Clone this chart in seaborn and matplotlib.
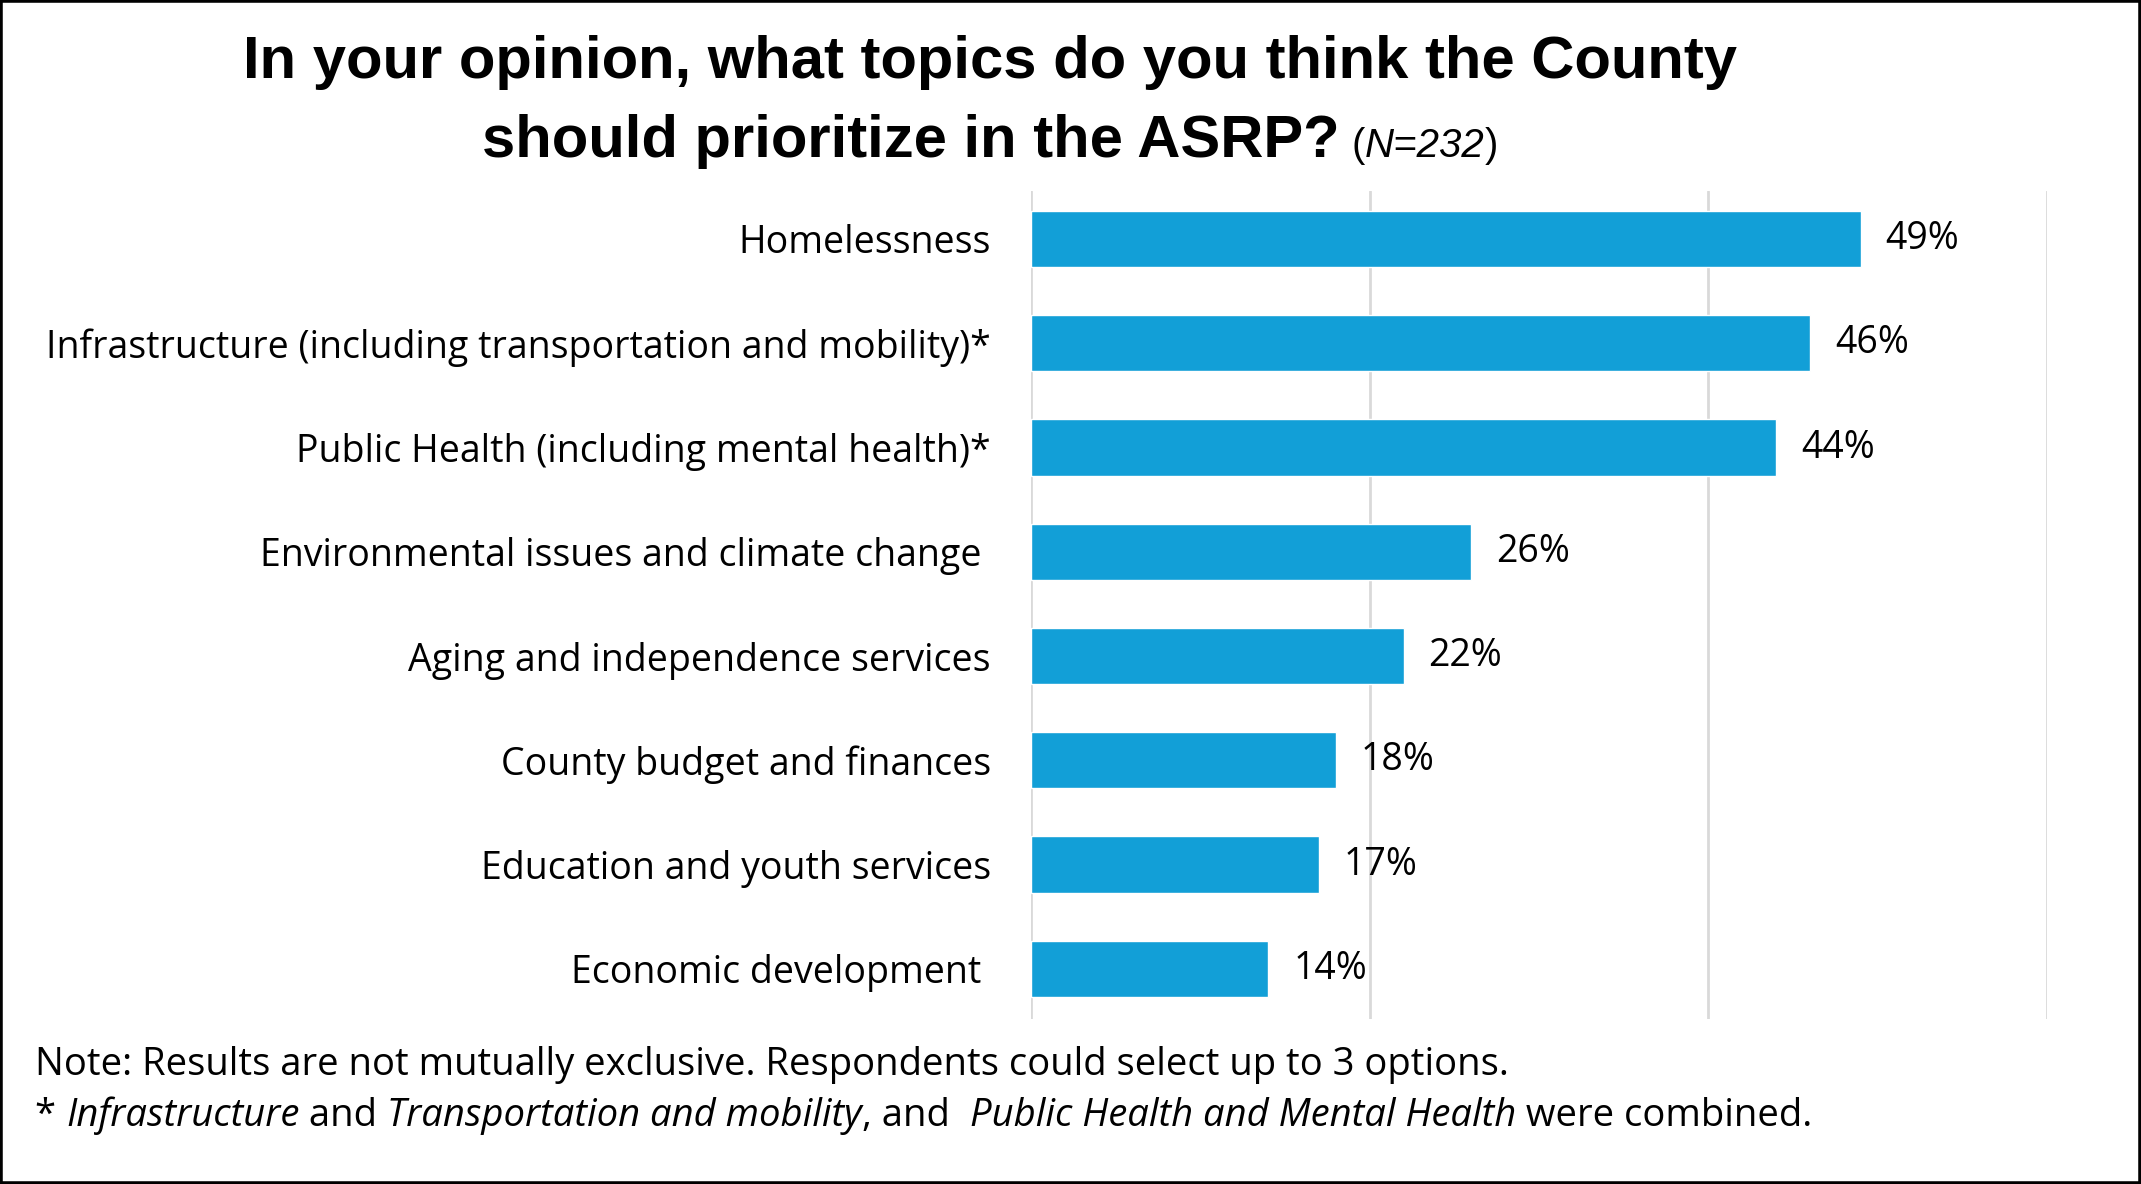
import numpy as np
import pandas as pd
import seaborn as sns
import matplotlib.pyplot as plt
from matplotlib.patches import Rectangle

# 資料
topics = [
    'Homelessness',
    'Infrastructure (including transportation and mobility)*',
    'Public Health (including mental health)*',
    'Environmental issues and climate change ',
    'Aging and independence services',
    'County budget and finances',
    'Education and youth services',
    'Economic development ',
]
shares = [0.49, 0.46, 0.44, 0.26, 0.22, 0.18, 0.17, 0.14]
pct_labels = ['49%', '46%', '44%', '26%', '22%', '18%', '17%', '14%']
x_ticks = [0, 0.2, 0.4, 0.6]

sns.set_theme(style='white')
plt.rcParams['font.family'] = ['Open Sans', 'DejaVu Sans']
plt.rcParams['text.color'] = 'black'

df = pd.DataFrame({'topic': topics, 'share': shares})

fig = plt.figure(figsize=(21.41, 11.84), dpi=100)
ax = fig.add_axes([0.4816, 0.1394, 0.956 - 0.4816, 0.8387 - 0.1394])

sns.barplot(data=df, x='share', y='topic', color='#129FD7', width=0.54,
            saturation=1, ax=ax, zorder=3)

ax.set_xlim(0, 0.6)
ax.set_ylim(7.48, -0.46)
ax.set_xticks(x_ticks)
ax.set_xticklabels([])
ax.grid(axis='x', color='#D9D9D9', linewidth=2, zorder=0)
ax.set_axisbelow(True)
for s in ax.spines.values():
    s.set_visible(False)
ax.tick_params(axis='y', length=0, pad=29, labelsize=27, labelcolor='black')
ax.tick_params(axis='x', length=0)
ax.set_xlabel('')
ax.set_ylabel('')

ax.bar_label(ax.containers[0], labels=pct_labels, padding=18, fontsize=27, color='black')

renderer = fig.canvas.get_renderer()
W = fig.get_figwidth() * fig.dpi


def draw_runs(runs, x, y, ha='left'):
    # 依序排列不同字型的文字片段
    texts = [fig.text(0, y, s, va='baseline', color='black', **kw) for s, kw in runs]
    widths = [t.get_window_extent(renderer).width for t in texts]
    start = x * W - (sum(widths) / 2 if ha == 'center' else 0)
    for t, w in zip(texts, widths):
        t.set_x(start / W)
        start += w


title_kw = dict(family=['Liberation Sans', 'DejaVu Sans'], fontweight='bold', fontsize=43)
draw_runs([('In your opinion, what topics do you think the County', title_kw)], 0.4625, 0.934, ha='center')
small_kw = dict(family=['Liberation Sans', 'DejaVu Sans'], fontsize=29)
draw_runs([
    ('should prioritize in the ASRP?\u2009', title_kw),
    ('(', small_kw),
    ('N=232', dict(small_kw, style='italic')),
    (')', small_kw),
], 0.4625, 0.8675, ha='center')

note_kw = dict(fontsize=27.5)
ital_kw = dict(fontsize=27.5, style='italic')
draw_runs([('Note: Results are not mutually exclusive. Respondents could select up to 3 options.', note_kw)],
          0.0164, 0.092)
draw_runs([
    ('* ', note_kw),
    ('Infrastructure', ital_kw),
    (' and ', note_kw),
    ('Transportation and mobility', ital_kw),
    (', and  ', note_kw),
    ('Public Health and Mental Health', ital_kw),
    (' were combined.', note_kw),
], 0.0164, 0.049)

fig.patches.append(Rectangle((0, 0), 1, 1, transform=fig.transFigure, fill=False,
                             edgecolor='black', linewidth=4))

fig.savefig('out.png', dpi=100)
